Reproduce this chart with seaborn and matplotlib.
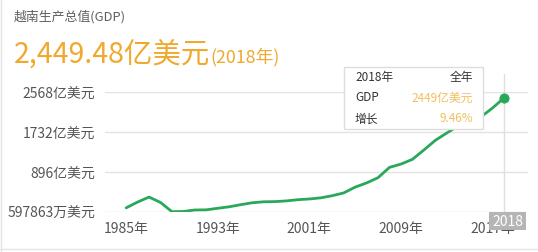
import matplotlib
matplotlib.use("Agg")
import matplotlib.pyplot as plt
import seaborn as sns
import pandas as pd
from matplotlib.patches import Rectangle
from matplotlib.lines import Line2D

# GDP of Vietnam, 亿美元
years = list(range(1985, 2019))
gdp = [141, 263, 367, 254, 59.79, 65, 96, 99, 132, 163, 207, 247, 268, 272, 287,
       312, 327, 351, 396, 454, 576, 664, 774, 991, 1060, 1159, 1355, 1558, 1712,
       1862, 1932, 2053, 2238, 2449]
ytick_vals = [59.7863, 896, 1732, 2568]
ytick_labels = ["597863万美元", "896亿美元", "1732亿美元", "2568亿美元"]
xtick_vals = [1985, 1993, 2001, 2009, 2017]
xtick_labels = ["1985年", "1993年", "2001年", "2009年", "2017年"]

df = pd.DataFrame({"year": years, "gdp": gdp})

sns.set_theme(style="white")
plt.rcParams["font.family"] = ["Noto Sans CJK SC", "DejaVu Sans"]

W, H = 538, 253
fig = plt.figure(figsize=(W / 100, H / 100), dpi=100)
fig.patch.set_facecolor("white")

def fx(px):
    return px / W

def fy(py):
    return 1 - py / H

ax = fig.add_axes([fx(105), fy(212.7), fx(528) - fx(105), fy(93.3) - fy(212.7)])

green = "#2aa85a"
orange = "#f0a92e"

sns.lineplot(data=df, x="year", y="gdp", ax=ax, color=green, linewidth=2)
sns.scatterplot(data=df.tail(1), x="year", y="gdp", ax=ax, color=green, s=45,
                edgecolor=green, zorder=5)

ax.set_xlim(1983.15, 2020.1)
ax.set_ylim(59.7863, 2568)
ax.set_yticks(ytick_vals)
ax.set_yticklabels(ytick_labels)
ax.set_xticks(xtick_vals)
ax.set_xticklabels(xtick_labels)
ax.tick_params(axis="y", length=0, pad=7, labelsize=10, labelcolor="#555555")
ax.tick_params(axis="x", length=0, pad=7, labelsize=10, labelcolor="#555555")
ax.set_xlabel("")
ax.set_ylabel("")
for s in ax.spines.values():
    s.set_visible(False)
ax.grid(axis="y", color="#e3e3e3", linewidth=1)
ax.grid(axis="x", visible=False)
ax.set_axisbelow(True)

# crosshair
ax.axvline(2018, ymin=-0.02, ymax=1.153, color="#e0e0e0", linewidth=1, clip_on=False, zorder=1)

# headers
fig.text(fx(14), fy(17), "越南生产总值(GDP)", fontsize=9.3, color="#606060", va="center", ha="left")
t = fig.text(fx(14), fy(55), "2,449.48亿美元", fontsize=20.5, color=orange, va="center", ha="left")
fig.canvas.draw()
bb = t.get_window_extent()
fig.text(bb.x1 / W, fy(57), "(2018年)", fontsize=12.8, color=orange, va="center", ha="left")

# tooltip
fig.add_artist(Rectangle((fx(344), fy(130)), fx(483) - fx(344), fy(68) - fy(130),
                         transform=fig.transFigure, facecolor="white",
                         edgecolor="#dddddd", linewidth=1, zorder=10))
tip_rows = [("2018年", "全年", "#333333"), ("GDP", "2449亿美元", "#f2bf5e"), ("增长", "9.46%", "#f2bf5e")]
for i, (l, r, c) in enumerate(tip_rows):
    yy = 77 + i * 21
    fig.text(fx(355), fy(yy), l, fontsize=8.5, color="#333333", va="center", ha="left", zorder=11)
    fig.text(fx(473), fy(yy), r, fontsize=8.5, color=c, va="center", ha="right", zorder=11)

# 2018 box on axis
fig.add_artist(Rectangle((fx(489), fy(231)), fx(526) - fx(489), fy(213) - fy(231),
                         transform=fig.transFigure, facecolor="#b5b5b5",
                         edgecolor="none", zorder=12))
fig.text(fx(507.5), fy(222), "2018", fontsize=10, color="white", va="center", ha="center", zorder=13)

# frame lines
fig.add_artist(Line2D([fx(1), fx(1)], [0, 1], transform=fig.transFigure, color="#e5e5e5", linewidth=1))
fig.add_artist(Line2D([0, 1], [fy(250), fy(250)], transform=fig.transFigure, color="#e5e5e5", linewidth=1))

fig.savefig("out.png", dpi=100, facecolor="white")
